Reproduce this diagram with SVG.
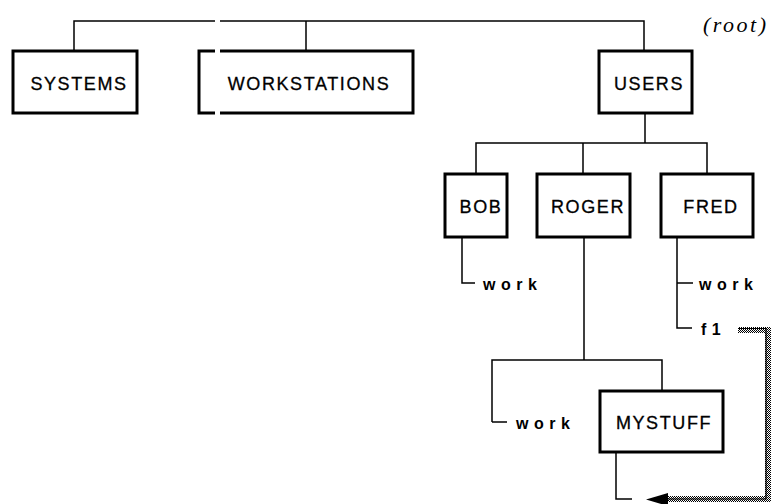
<svg xmlns="http://www.w3.org/2000/svg" width="774" height="504" viewBox="0 0 774 504">
<style>
.box{fill:#fff;stroke:#000;stroke-width:3}
.lbl{font-family:"Liberation Sans",Arial,sans-serif;font-size:18px;letter-spacing:1.6px;text-anchor:middle;fill:#000;stroke:#000;stroke-width:0.3}
.leaf{font-family:"Liberation Sans",Arial,sans-serif;font-size:16px;font-weight:bold;letter-spacing:5.5px;fill:#000}
.c{fill:none;stroke:#000;stroke-width:1.5}
.root{font-family:"Liberation Serif","Times New Roman",serif;font-style:italic;font-size:22px;letter-spacing:2.5px;fill:#000}
</style>
<defs>
<pattern id="stip" width="2" height="2" patternUnits="userSpaceOnUse">
<rect width="2" height="2" fill="#fff"/>
<rect x="0" y="0" width="1" height="1" fill="#000"/>
<rect x="1" y="1" width="1" height="1" fill="#000"/>
</pattern>
</defs>
<rect width="774" height="504" fill="#fff"/>
<g id="connectors">
<path class="c" d="M74,50 V21 H215 M220,21 H644 V50 M306,21 V50"/>
<path class="c" d="M645,113 V143 M476,174 V143 H707 V174 M583,143 V174"/>
<path class="c" d="M462,237 V283 H475"/>
<path class="c" d="M677,237 V328 H692 M677,283 H693"/>
<path class="c" d="M584,237 V360 M492,422 V360 H662 V391 M492,422 H507"/>
<path class="c" d="M616,452 V499 H632"/>
<path d="M738,330 H768 V499 H668" fill="none" stroke="url(#stip)" stroke-width="6"/>
<path d="M738,328.5 H766 V499 H668" fill="none" stroke="#000" stroke-width="1.2"/>
<path d="M646,499.5 L668,493 L668,506 Z" fill="#000"/>
</g>
<g id="root-label"><text class="root" x="703" y="32">(root)</text></g>
<g id="systems"><rect class="box" x="13" y="51" width="124" height="62"/><text class="lbl" x="79" y="90">SYSTEMS</text></g>
<g id="workstations">
<rect x="199" y="51" width="214" height="62" fill="#fff"/>
<path d="M215,51 H199 V113 H215 M220,51 H413 V113 H220" fill="none" stroke="#000" stroke-width="3"/>
<text class="lbl" x="309" y="90">WORKSTATIONS</text></g>
<g id="users"><rect class="box" x="599" y="51" width="93" height="62"/><text class="lbl" x="649" y="90">USERS</text></g>
<g id="bob"><rect class="box" x="445" y="174" width="62" height="63"/><text class="lbl" x="481" y="213">BOB</text></g>
<g id="roger"><rect class="box" x="537" y="174" width="93" height="63"/><text class="lbl" x="588" y="213">ROGER</text></g>
<g id="fred"><rect class="box" x="661" y="174" width="92" height="63"/><text class="lbl" x="711" y="213">FRED</text></g>
<g id="mystuff"><rect class="box" x="600" y="391" width="123" height="61"/><text class="lbl" x="664" y="429">MYSTUFF</text></g>
<g id="bob-work"><text class="leaf" x="483" y="290">work</text></g>
<g id="fred-work"><text class="leaf" x="699" y="290">work</text></g>
<g id="fred-f1"><text class="leaf" x="701" y="335">f1</text></g>
<g id="roger-work"><text class="leaf" x="516" y="429">work</text></g>
</svg>
